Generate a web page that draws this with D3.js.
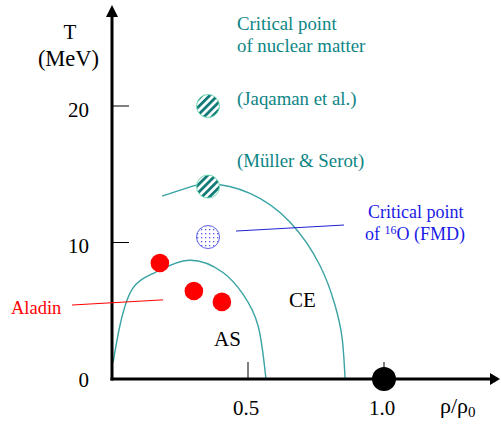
<!DOCTYPE html>
<html>
<head>
<meta charset="utf-8">
<script src="https://cdn.jsdelivr.net/npm/d3@7"></script>
<style>
  body { margin: 0; background: #fff; }
</style>
</head>
<body>
<div id="c"></div>
<script>
// axis ticks
var x_ticks = [0.5, 1.0];
var x_tick_labels = ["0.5", "1.0"];
var y_ticks = [0, 10, 20];
var y_tick_labels = ["0", "10", "20"];

// phase boundaries (rho/rho0, T)
var as_rho = [0.004, 0.029, 0.075, 0.158, 0.283, 0.408, 0.482, 0.537, 0.566];
var as_T   = [1.2, 3.9, 6.6, 7.8, 8.7, 7.8, 6.2, 3.9, 0];
var ce_rho = [0.184, 0.276, 0.36, 0.507, 0.654, 0.765, 0.82, 0.846, 0.857];
var ce_T   = [13.4, 14.0, 14.3, 13.6, 11.5, 8.3, 5.4, 3.0, 0];

// critical point estimates
var crit_rho = [0.353, 0.353];
var crit_T = [20, 14.1];
var fmd_rho = 0.353, fmd_T = 10.4;

// Aladin data
var aladin_rho = [0.176, 0.301, 0.404];
var aladin_T = [8.5, 6.45, 5.65];

// saturation point
var sat_rho = 1.0, sat_T = 0;

var width = 501, height = 426;
var x0 = 112, y0 = 379;
var serif = "'Liberation Serif', Tinos, 'Times New Roman', Times, 'DejaVu Serif', serif";

var svg = d3.select("#c").append("svg")
	.attr("width", width)
	.attr("height", height)
	.attr("font-family", serif)
	.style("font-family", serif);

var x_scale = d3.scaleLinear().domain([0, 1]).range([x0, 384]);
var y_scale = d3.scaleLinear().domain([0, 20]).range([y0, 106]);

var teal = "#0d8585";
var curve_col = "#3aa3a3";

// patterns
var defs = svg.append("defs");
var hatch = defs.append("pattern")
	.attr("id", "hatch")
	.attr("patternUnits", "userSpaceOnUse")
	.attr("width", 5.5).attr("height", 5.5)
	.attr("patternTransform", "rotate(45)");
hatch.append("rect").attr("width", 5.5).attr("height", 5.5).attr("fill", "#fff");
hatch.append("rect").attr("width", 2.8).attr("height", 5.5).attr("fill", "#137a7a");

var dots = defs.append("pattern")
	.attr("id", "dots")
	.attr("patternUnits", "userSpaceOnUse")
	.attr("width", 4).attr("height", 4);
dots.append("rect").attr("width", 4).attr("height", 4).attr("fill", "#fff");
dots.append("rect").attr("x", 1).attr("y", 1).attr("width", 1.3).attr("height", 1.3).attr("fill", "#5a5af0");

// phase boundary curves
var line = d3.line()
	.x(function(d) { return x_scale(d[0]); })
	.y(function(d) { return y_scale(d[1]); })
	.curve(d3.curveNatural);

svg.append("path")
	.datum(d3.zip(as_rho, as_T))
	.attr("d", line)
	.attr("fill", "none")
	.attr("stroke", curve_col)
	.attr("stroke-width", 1.4);

svg.append("path")
	.datum(d3.zip(ce_rho, ce_T))
	.attr("d", line)
	.attr("fill", "none")
	.attr("stroke", curve_col)
	.attr("stroke-width", 1.4);

// axes
var y_top = 5, x_right = 500;
svg.append("line")
	.attr("x1", x0).attr("y1", y0 + 1.5)
	.attr("x2", x0).attr("y2", y_top + 10)
	.attr("stroke", "#000").attr("stroke-width", 3);
svg.append("path")
	.attr("d", "M" + (x0 - 6) + "," + (y_top + 12) + "L" + x0 + "," + y_top + "L" + (x0 + 6) + "," + (y_top + 12) + "Z")
	.attr("fill", "#000");
svg.append("line")
	.attr("x1", x0 - 1.5).attr("y1", y0)
	.attr("x2", x_right - 6).attr("y2", y0)
	.attr("stroke", "#000").attr("stroke-width", 3);
svg.append("path")
	.attr("d", "M" + (x_right - 10) + "," + (y0 - 6) + "L" + x_right + "," + y0 + "L" + (x_right - 10) + "," + (y0 + 6) + "Z")
	.attr("fill", "#000");

// y ticks
svg.selectAll(".y-tick")
	.data(y_ticks.filter(function(d) { return d > 0; }))
	.enter().append("line")
	.attr("class", "y-tick")
	.attr("x1", x0).attr("x2", x0 + 17)
	.attr("y1", function(d) { return y_scale(d); })
	.attr("y2", function(d) { return y_scale(d); })
	.attr("stroke", "#000").attr("stroke-width", 1);

svg.selectAll(".y-lab")
	.data(y_ticks)
	.enter().append("text")
	.attr("class", "y-lab")
	.attr("x", 89)
	.attr("y", function(d) { return y_scale(d) + (d === 0 ? 8 : 10.5); })
	.attr("text-anchor", "end")
	.attr("font-size", 21)
	.text(function(d, i) { return y_tick_labels[i]; });

// x ticks
svg.selectAll(".x-tick")
	.data(x_ticks)
	.enter().append("line")
	.attr("class", "x-tick")
	.attr("x1", function(d) { return x_scale(d); })
	.attr("x2", function(d) { return x_scale(d); })
	.attr("y1", y0 - 17).attr("y2", y0)
	.attr("stroke", "#000").attr("stroke-width", 1);

svg.selectAll(".x-lab")
	.data(x_ticks)
	.enter().append("text")
	.attr("class", "x-lab")
	.attr("x", function(d) { return x_scale(d) - 2; })
	.attr("y", 415)
	.attr("text-anchor", "middle")
	.attr("font-size", 21)
	.text(function(d, i) { return x_tick_labels[i]; });

// axis titles
svg.append("text").attr("x", 70).attr("y", 39).attr("text-anchor", "middle")
	.attr("font-size", 21).text("T");
svg.append("text").attr("x", 68.5).attr("y", 66).attr("text-anchor", "middle")
	.attr("font-size", 22.5).text("(MeV)");
var rt = svg.append("text").attr("x", 440).attr("y", 413).attr("font-size", 22);
rt.append("tspan").text("\u03c1/\u03c1");
rt.append("tspan").attr("font-size", 15).attr("dy", 4).text("0");

// saturation point
svg.append("circle")
	.attr("cx", x_scale(sat_rho)).attr("cy", y_scale(sat_T))
	.attr("r", 12).attr("fill", "#000");

// critical points (hatched)
svg.selectAll(".crit")
	.data(crit_rho)
	.enter().append("circle")
	.attr("class", "crit")
	.attr("cx", function(d) { return x_scale(d); })
	.attr("cy", function(d, i) { return y_scale(crit_T[i]); })
	.attr("r", 11.5)
	.attr("fill", "url(#hatch)")
	.attr("stroke", "#6fdcb4")
	.attr("stroke-width", 1);

// FMD point
svg.append("circle")
	.attr("cx", x_scale(fmd_rho)).attr("cy", y_scale(fmd_T))
	.attr("r", 11.5)
	.attr("fill", "url(#dots)")
	.attr("stroke", "#6060e8")
	.attr("stroke-width", 1);

// Aladin points
svg.selectAll(".aladin")
	.data(aladin_rho)
	.enter().append("circle")
	.attr("class", "aladin")
	.attr("cx", function(d) { return x_scale(d); })
	.attr("cy", function(d, i) { return y_scale(aladin_T[i]); })
	.attr("r", 9.3)
	.attr("fill", "#ff0000");

// pointer lines
svg.append("line")
	.attr("x1", x_scale(-0.147)).attr("y1", y_scale(5.42))
	.attr("x2", x_scale(0.188)).attr("y2", y_scale(5.8))
	.attr("stroke", "#ff0000").attr("stroke-width", 1);
svg.append("line")
	.attr("x1", x_scale(0.456)).attr("y1", y_scale(10.84))
	.attr("x2", x_scale(0.853)).attr("y2", y_scale(11.28))
	.attr("stroke", "#2020d0").attr("stroke-width", 1);

// labels
var teal_size = 18.8;
svg.append("text").attr("x", 237).attr("y", 30).attr("font-size", teal_size)
	.attr("fill", teal).text("Critical point");
svg.append("text").attr("x", 237).attr("y", 52).attr("font-size", teal_size)
	.attr("fill", teal).text("of nuclear matter");
svg.append("text").attr("x", 237).attr("y", 105).attr("font-size", teal_size)
	.attr("fill", teal).text("(Jaqaman et al.)");
svg.append("text").attr("x", 237).attr("y", 167).attr("font-size", teal_size)
	.attr("fill", teal).text("(M\u00fcller & Serot)");

svg.append("text").attr("x", 368).attr("y", 218).attr("font-size", 18)
	.attr("fill", "#1a1ae6").text("Critical point");
var ft = svg.append("text").attr("x", 365).attr("y", 240).attr("font-size", 18)
	.attr("fill", "#1a1ae6");
ft.append("tspan").text("of ");
ft.append("tspan").attr("font-size", 12).attr("dy", -6).text("16");
ft.append("tspan").attr("dy", 6).text("O (FMD)");

svg.append("text").attr("x", 11).attr("y", 314).attr("font-size", 18.5)
	.attr("fill", "#ff0000").text("Aladin");

svg.append("text").attr("x", 289).attr("y", 307).attr("font-size", 21).text("CE");
svg.append("text").attr("x", 214).attr("y", 346).attr("font-size", 21).text("AS");
</script>
</body>
</html>
